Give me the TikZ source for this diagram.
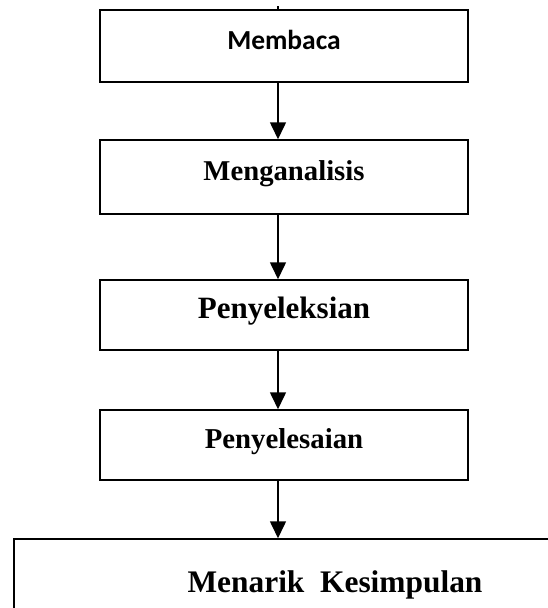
\documentclass[tikz,border=0pt]{standalone}
\usepackage{fontspec}
\setmainfont{Liberation Serif}
\newfontfamily\calibri{Carlito}
\usepackage{tikz}
\usetikzlibrary{arrows.meta}

\tikzset{
	stepbox/.style = {draw, line width=1.5pt, minimum width=368pt, minimum height=72pt, inner sep=0pt, text height=20pt, text depth=14pt},
	arr/.style = {line width=1.6pt, -{Triangle[length=17pt,width=16pt]}}
}

\begin{document}
\begin{tikzpicture}[x=1pt, y=-1pt]
	\clip (0,0) rectangle (548,608);
	\node[stepbox, minimum height=72pt] (baca) at (284,46) {\calibri\bfseries\fontsize{27.5}{30}\selectfont Membaca}; %1
	\node[stepbox, minimum height=74pt] (analisis) at (284,177) {\bfseries\fontsize{28.7}{32}\selectfont Menganalisis}; %2
	\node[stepbox, minimum height=70pt] (seleksi) at (284,315) {\bfseries\fontsize{31}{35}\selectfont Penyeleksian}; %3
	\node[stepbox, minimum height=70pt] (selesai) at (284,445) {\bfseries\fontsize{28.8}{32}\selectfont Penyelesaian}; %4
	\node[draw, line width=1.5pt, minimum width=642pt, minimum height=92pt, inner sep=0pt] (simpulan) at (335,585) {\bfseries\fontsize{31.4}{35}\selectfont Menarik\ \ Kesimpulan}; %5
	\coordinate (ax) at (278,6);
	\draw[line width=1.6pt] (ax) -- (baca.north -| ax);
	\draw[arr] (baca.south -| ax) -- (analisis.north -| ax);
	\draw[arr] (analisis.south -| ax) -- (seleksi.north -| ax);
	\draw[arr] (seleksi.south -| ax) -- (selesai.north -| ax);
	\draw[arr] (selesai.south -| ax) -- (simpulan.north -| ax);
\end{tikzpicture}
\end{document}
